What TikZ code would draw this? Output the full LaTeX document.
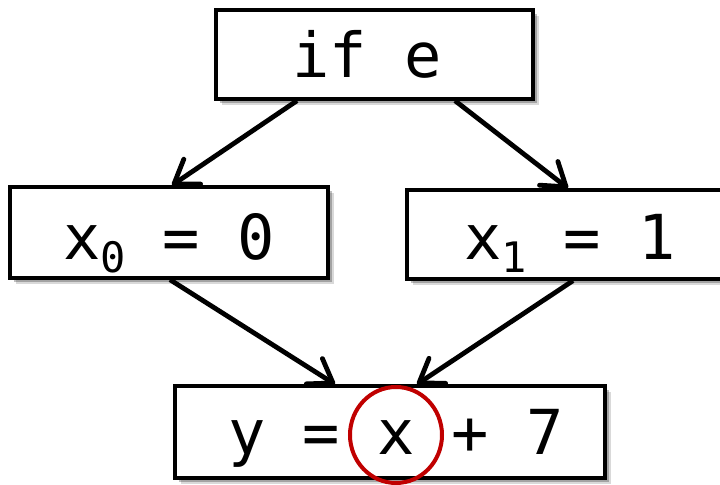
\documentclass[tikz,border=0pt]{standalone}
\usepackage{fontspec}
\setmonofont{DejaVu Sans Mono}
\usetikzlibrary{arrows.meta,shadows,shapes.geometric}
\definecolor{hlred}{RGB}{192,0,0}
\newcommand{\subz}[1]{\raisebox{-6.5pt}{\fontsize{21}{21}\selectfont #1}}
\tikzset{
  block/.style={draw=black, line width=1.7pt, fill=white, inner sep=0pt,
    font=\ttfamily\fontsize{31}{31}\selectfont, text depth=0pt,
    drop shadow={shadow xshift=3pt, shadow yshift=-3pt, fill=black, opacity=0.15},
    drop shadow={shadow xshift=1.8pt, shadow yshift=-1.8pt, fill=black, opacity=0.25}},
  flow/.style={line width=2.4pt, -{Straight Barb[length=11pt,width=15pt,round]}},
  mark ring/.style={ellipse, draw=hlred, line width=2pt, inner sep=0pt}
}
\begin{document}
\begin{tikzpicture}[x=0.5pt,y=-0.5pt]
\useasboundingbox (0,0) rectangle (720,485);
\node[block, minimum width=158.5pt, minimum height=44.5pt, text height=23pt]
  (top) at (374.5,54.5) {if e\hspace*{7.5pt}};
\node[block, minimum width=159pt, minimum height=45.5pt, text height=27.5pt]
  (left) at (169,232.5) {x\subz{0} = 0};
\node[block, minimum width=163pt, minimum height=44.5pt, text height=25.5pt]
  (right) at (570,234.5) {x\subz{1} = 1};
\node[block, minimum width=215pt, minimum height=46pt, text height=22.5pt]
  (bot) at (390,432) {\hspace*{6pt}y = x + 7};
\node[mark ring, minimum width=46pt, minimum height=48pt] (ring) at (396,435) {};
\draw[flow] ([xshift=-38.75pt]top.south) -- ([xshift=1.5pt]left.north);
\draw[flow] ([xshift=40.25pt]top.south) -- ([xshift=-1pt]right.north);
\draw[flow] ([xshift=0.5pt]left.south) -- ([xshift=-27.5pt]bot.north);
\draw[flow] ([xshift=1.5pt]right.south) -- ([xshift=13.5pt]bot.north);
\end{tikzpicture}
\end{document}
